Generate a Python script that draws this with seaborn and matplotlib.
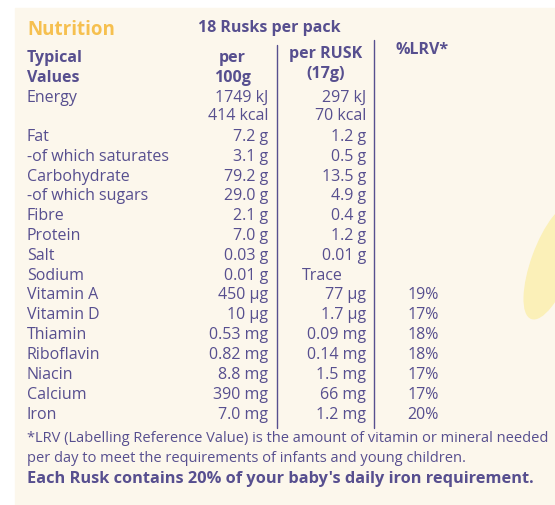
import matplotlib
matplotlib.use("Agg")
import matplotlib.pyplot as plt
import seaborn as sns
from matplotlib.patches import Ellipse

sns.set_style("white")
plt.rcParams["font.family"] = ["Open Sans", "DejaVu Sans"]

# nutrition table data
nutrients = ["Energy", "", "Fat", "-of which saturates", "Carbohydrate", "-of which sugars",
             "Fibre", "Protein", "Salt", "Sodium", "Vitamin A", "Vitamin D", "Thiamin",
             "Riboflavin", "Niacin", "Calcium", "Iron"]
per_100g = ["1749 kJ", "414 kcal", "7.2 g", "3.1 g", "79.2 g", "29.0 g", "2.1 g", "7.0 g",
            "0.03 g", "0.01 g", "450 µg", "10 µg", "0.53 mg", "0.82 mg", "8.8 mg", "390 mg", "7.0 mg"]
per_rusk = ["297 kJ", "70 kcal", "1.2 g", "0.5 g", "13.5 g", "4.9 g", "0.4 g", "1.2 g",
            "0.01 g", "Trace", "77 µg", "1.7 µg", "0.09 mg", "0.14 mg", "1.5 mg", "66 mg", "1.2 mg"]
lrv = ["", "", "", "", "", "", "", "", "", "", "19%", "17%", "18%", "18%", "17%", "17%", "20%"]
row_y = [98, 116, 137, 157, 177, 196, 216, 236, 256, 276, 295, 315, 335, 355, 375, 395, 415]

ink = "#574f8f"
fig = plt.figure(figsize=(5.55, 5.05), dpi=100)
fig.patch.set_facecolor("white")
ax = fig.add_axes([0, 0, 1, 1])
ax.set_xlim(0, 555)
ax.set_ylim(505, 0)
ax.axis("off")

ax.add_patch(plt.Rectangle((15, 8), 540, 497, color="#fcf7ec", zorder=0))
ax.add_patch(Ellipse((552, 262), 40, 120, angle=20, color="#fbf0b8", zorder=0))

fs = 11.5
ax.text(27, 30, "Nutrition", color="#f6c04f", fontsize=13.5, fontweight="bold", va="center")
ax.text(198, 28, "18 Rusks per pack", color=ink, fontsize=fs, fontweight="bold", va="center")
ax.text(27, 58, "Typical", color=ink, fontsize=fs, fontweight="bold", va="center")
ax.text(27, 78, "Values", color=ink, fontsize=fs, fontweight="bold", va="center")
ax.text(232, 58, "per", color=ink, fontsize=fs, fontweight="bold", va="center", ha="center")
ax.text(232, 78, "100g", color=ink, fontsize=fs, fontweight="bold", va="center", ha="center")
ax.text(326, 54, "per RUSK", color=ink, fontsize=fs, fontweight="bold", va="center", ha="center")
ax.text(326, 74, "(17g)", color=ink, fontsize=fs, fontweight="bold", va="center", ha="center")
ax.text(422, 50, "%LRV*", color=ink, fontsize=fs, fontweight="bold", va="center", ha="center")

for name, a, b, c, y in zip(nutrients, per_100g, per_rusk, lrv, row_y):
    ax.text(27, y, name, color=ink, fontsize=fs, va="center")
    ax.text(268, y, a, color=ink, fontsize=fs, va="center", ha="right")
    if b == "Trace":
        ax.text(322, y, b, color=ink, fontsize=fs, va="center", ha="center")
    else:
        ax.text(366, y, b, color=ink, fontsize=fs, va="center", ha="right")
    ax.text(439, y, c, color=ink, fontsize=fs, va="center", ha="right")

ax.plot([277, 277], [45, 428], color=ink, lw=1)
ax.plot([374, 374], [40, 428], color=ink, lw=1)

ax.text(27, 438, "*LRV (Labelling Reference Value) is the amount of vitamin or mineral needed",
        color=ink, fontsize=10.5, va="center")
ax.text(27, 458, "per day to meet the requirements of infants and young children.",
        color=ink, fontsize=10.5, va="center")
ax.text(27, 479, "Each Rusk contains 20% of your baby's daily iron requirement.",
        color=ink, fontsize=11.8, fontweight="bold", va="center")

fig.savefig("out.png", dpi=100)
